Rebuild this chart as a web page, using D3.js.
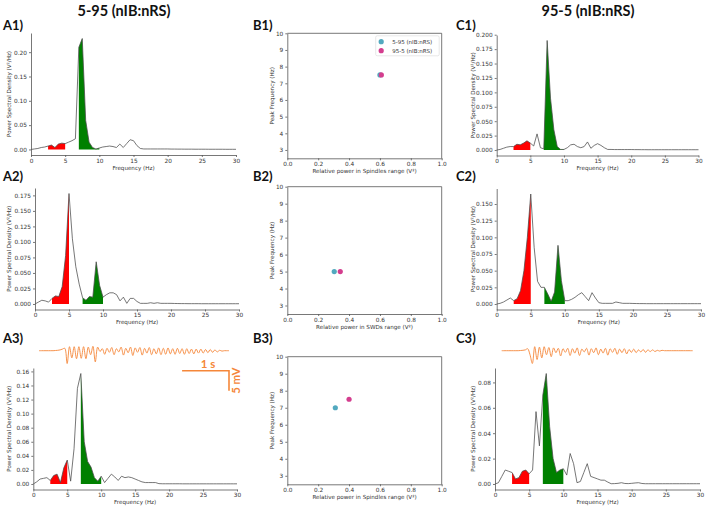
<!DOCTYPE html>
<html>
<head>
<meta charset="utf-8">
<script src="https://cdn.jsdelivr.net/npm/d3@7"></script>
<style>
  body { margin: 0; background: #fff; }
  svg { display: block; }
</style>
</head>
<body>
<div class="main"></div>
<script>
// ---- data ----
const freqs = [0, 0.5, 1, 1.5, 2, 2.5, 3, 3.5, 4, 4.5,
  5, 5.5, 6, 6.5, 7, 7.5, 8, 8.5, 9, 9.5,
  10, 10.5, 11, 11.5, 12, 12.5, 13, 13.5, 14, 14.5,
  15, 15.5, 16, 16.5, 17, 17.5, 18, 18.5, 19, 19.5,
  20, 20.5, 21, 21.5, 22, 22.5, 23, 23.5, 24, 24.5,
  25, 25.5, 26, 26.5, 27, 27.5, 28, 28.5, 29, 29.5, 30];

const psdA1 = [0, 0.001, 0.002, 0.004, 0.005, 0.007, 0.009, 0.004, 0.011, 0.013,
  0.012, 0.015, 0.018, 0.022, 0.21, 0.228, 0.06, 0.015, 0.004, 0.001,
  0.003, 0.005, 0.006, 0.007, 0.006, 0.004, 0.011, 0.004, 0.012, 0.02,
  0.018, 0.008, 0.002, 0.001, 0.001, 0.001, 0.001, 0.001, 0.001, 0.001,
  0.001, 0.0008, 0.0008, 0.0007, 0.0007, 0.0006, 0.0006, 0.0006, 0.0005, 0.0005,
  0.0005, 0.0005, 0.0004, 0.0004, 0.0004, 0.0004, 0.0004, 0.0003, 0.0003, 0.0003, 0.0003];

const psdA2 = [0, 0.003, 0.006, 0.005, 0.003, 0.009, 0.013, 0.012, 0.028, 0.078,
  0.178, 0.105, 0.06, 0.032, 0.01, 0.006, 0.012, 0.011, 0.068, 0.03,
  0.011, 0.015, 0.018, 0.018, 0.015, 0.005, 0.011, 0.001, 0.009, 0.009,
  0.004, 0.001, 0.001, 0.001, 0.002, 0.001, 0.002, 0.001, 0.001, 0.001,
  0.001, 0.0008, 0.0007, 0.0006, 0.0006, 0.0005, 0.0005, 0.0005, 0.0005, 0.0004,
  0.0004, 0.0004, 0.0004, 0.0004, 0.0004, 0.0004, 0.0004, 0.0004, 0.0004, 0.0004, 0.0004];

const psdA3 = [0, 0.003, 0.007, 0.008, 0.009, 0.005, 0.012, 0.014, 0.002, 0.023,
  0.034, 0.004, 0.05, 0.136, 0.157, 0.06, 0.032, 0.024, 0.009, 0.004,
  0.011, 0.002, 0.008, 0.014, 0.01, 0.005, 0.011, 0.009, 0.01, 0.009,
  0.007, 0.005, 0.003, 0.002, 0.002, 0.002, 0.002, 0.0005, 0.0003, 0.0003,
  0.0003, 0.0003, 0.0003, 0.0003, 0.0002, 0.0002, 0.0002, 0.0002, 0.0002, 0.0002,
  0.0002, 0.0002, 0.0002, 0.0002, 0.0002, 0.0002, 0.0002, 0.0002, 0.0002, 0.0002, 0.0002];

const psdC1 = [0, 0.001, 0.003, 0.005, 0.006, 0.006, 0.01, 0.009, 0.012, 0.016,
  0.012, 0.007, 0.028, 0.004, 0.002, 0.19, 0.09, 0.035, 0.006, 0.001,
  0.001, 0.004, 0.009, 0.01, 0.006, 0.004, 0.006, 0.014, 0.003, 0.008,
  0.011, 0.008, 0.004, 0.001, 0.001, 0.0008, 0.0008, 0.0008, 0.0008, 0.0008,
  0.0008, 0.0007, 0.0007, 0.0006, 0.0006, 0.0005, 0.0005, 0.0005, 0.0005, 0.0005,
  0.0005, 0.0005, 0.0005, 0.0005, 0.0005, 0.0005, 0.0005, 0.0005, 0.0005, 0.0005, 0.0005];

const psdC2 = [0, 0.001, 0.003, 0.006, 0.009, 0.005, 0.008, 0.02, 0.05, 0.1,
  0.165, 0.085, 0.034, 0.025, 0.025, 0.015, 0.004, 0.018, 0.088, 0.035,
  0.005, 0.005, 0.007, 0.01, 0.014, 0.017, 0.011, 0.005, 0.017, 0.009,
  0.002, 0.001, 0.001, 0.001, 0.001, 0.003, 0.002, 0.001, 0.001, 0.001,
  0.0008, 0.0007, 0.0006, 0.0006, 0.0005, 0.0005, 0.0005, 0.0005, 0.0005, 0.0005,
  0.0005, 0.0005, 0.0005, 0.0005, 0.0005, 0.0005, 0.0005, 0.0005, 0.0005, 0.0005, 0.0005];

const psdC3 = [0, 0.001, 0.006, 0.011, 0.01, 0.009, 0.004, 0.005, 0.01, 0.011,
  0.008, 0.011, 0.057, 0.03, 0.07, 0.087, 0.045, 0.02, 0.009, 0.011,
  0.012, 0.007, 0.024, 0.016, 0.001, 0.002, 0.009, 0.016, 0.006, 0.005,
  0.004, 0.003, 0.003, 0.0015, 0.0002, 0.0003, 0.0005, 0.001, 0.0004, 0.0003,
  0.0005, 0.0008, 0.001, 0.0004, 0.0002, 0.0002, 0.0002, 0.0002, 0.0002, 0.0002,
  0.0002, 0.0002, 0.0002, 0.0002, 0.0002, 0.0002, 0.0002, 0.0002, 0.0002, 0.0002, 0.0002];

const swdBand = [2.5, 5];
const spindleBand = [7, 10];

const freqTicks = [0, 5, 10, 15, 20, 25, 30];
const yTicksA1 = [0, 0.05, 0.10, 0.15, 0.20];
const yTicksA2 = [0, 0.025, 0.05, 0.075, 0.1, 0.125, 0.15, 0.175];
const yTicksA3 = [0, 0.02, 0.04, 0.06, 0.08, 0.10, 0.12, 0.14, 0.16];
const yTicksC1 = [0, 0.025, 0.05, 0.075, 0.1, 0.125, 0.15, 0.175, 0.2];
const yTicksC2 = [0, 0.025, 0.05, 0.075, 0.1, 0.125, 0.15];
const yTicksC3 = [0, 0.02, 0.04, 0.06, 0.08];

// scatter: [5-95, 95-5]
const seriesNames = ['5-95 (nIB:nRS)', '95-5 (nIB:nRS)'];
const seriesColors = ['#52a9bf', '#d43d8e'];
const relPowerB1 = [0.60, 0.609];
const peakFreqB1 = [7.5, 7.5];
const relPowerB2 = [0.304, 0.343];
const peakFreqB2 = [5, 5];
const relPowerB3 = [0.311, 0.40];
const peakFreqB3 = [7, 7.5];
const relTicks = [0, 0.2, 0.4, 0.6, 0.8, 1.0];
const peakTicks = [3, 4, 5, 6, 7, 8, 9, 10];

// example LFP traces (mV), one sample every 0.05 s
const traceDt = 0.05;
const traceA3 = [0, 0, 0, 0, 0, 0, 0, 0.05, 0.1, 0.2,
  0.4, 0.6, -3.2, 1.0, -1.8, 1.0, -2.0, 1.0, -1.9, 1.0,
  -2.0, 0.9, -1.0, 1.1, -2.8, 0.9, -0.2, 0.5, -0.9, 0.6,
  -0.4, 0.8, -1.0, 0.5, -0.3, 0.9, -1.1, 0.6, -0.5, 0.9,
  -1.2, 0.7, -0.4, 0.8, -1.1, 0.6, -0.6, 0.8, -1.0, 0.5,
  -0.8, 0.7, -1.0, 0.6, -0.9, 0.7, -0.8, 0.5, -0.9, 0.6,
  -0.7, 0.5, -0.9, 0.5, -0.7, 0.4, -0.8, 0.4, -0.6, 0.4,
  -0.6, 0.3, -0.5, 0.3, -0.4, 0.2, -0.3, 0.1, -0.1, 0,
  0, 0];
const traceC3 = [0, 0, 0, 0, 0, 0, 0, 0, 0.05, 0.1,
  0.2, 0.5, -1.0, -3.2, 1.0, -2.2, 0.9, -1.8, 1.0, -1.0,
  0.8, -1.5, 0.7, -0.5, 0.6, -1.3, 0.5, -0.4, 0.6, -1.2,
  0.5, -0.6, 0.7, -1.2, 0.4, -0.3, 0.6, -1.1, 0.5, -0.5,
  0.7, -1.0, 0.4, -0.6, 0.6, -1.1, 0.5, -0.4, 0.6, -0.9,
  0.4, -0.5, 0.5, -0.8, 0.3, -0.4, 0.4, -0.5, 0.2, -0.3,
  0.3, -0.4, 0.2, -0.2, 0.2, -0.2, 0.1, -0.1, 0.1, 0,
  0, 0, 0, 0, 0, 0, 0, 0, 0, 0,
  0, 0];
const scaleBarSec = 1;
const scaleBarMv = 5;

// ---- layout ----
const tickFont = 'DejaVu Sans';
const axisColor = '#555';
const orange = '#f5873a';

let svg = d3.select('.main').append('svg')
  .attr('width', 708)
  .attr('height', 508);

function styleAxis(g) {
  g.attr('font-family', tickFont).attr('font-size', 5.8);
  g.selectAll('path.domain').attr('stroke', axisColor).attr('stroke-width', 0.8);
  g.selectAll('.tick line').attr('stroke', axisColor).attr('stroke-width', 0.8);
  g.selectAll('.tick text').attr('fill', '#333');
}

function axisLabels(box, xText, yText, yLabX) {
  svg.append('text')
    .attr('x', (box.left + box.right) / 2)
    .attr('y', box.bottom + 14.5)
    .attr('text-anchor', 'middle')
    .attr('font-family', tickFont).attr('font-size', 5.6).attr('fill', '#333')
    .text(xText);
  svg.append('text')
    .attr('transform', `translate(${yLabX},${(box.top + box.bottom) / 2}) rotate(-90)`)
    .attr('text-anchor', 'middle')
    .attr('dy', '0.35em')
    .attr('font-family', tickFont).attr('font-size', 5.6).attr('fill', '#333')
    .text(yText);
}

function psdPanel(box, psd, yTicks, yFmt, yLabX) {
  let x = d3.scaleLinear().domain([0, 30]).range([box.left, box.right]);
  let lo = d3.min(psd), hi = d3.max(psd), pad = (hi - lo) * 0.05;
  let y = d3.scaleLinear().domain([lo - pad, hi + pad]).range([box.bottom, box.top]);
  let pts = freqs.map((f, i) => ({ f: f, v: psd[i] }));
  let area = d3.area().x(d => x(d.f)).y0(y(0)).y1(d => y(d.v));

  svg.append('path')
    .datum(pts.filter(d => d.f >= swdBand[0] && d.f <= swdBand[1]))
    .attr('d', area).attr('fill', '#ff0000');
  svg.append('path')
    .datum(pts.filter(d => d.f >= spindleBand[0] && d.f <= spindleBand[1]))
    .attr('d', area).attr('fill', '#008000');
  svg.append('path')
    .datum(pts)
    .attr('d', d3.line().x(d => x(d.f)).y(d => y(d.v)))
    .attr('fill', 'none').attr('stroke', '#4a4a4a').attr('stroke-width', 0.75);

  svg.append('g')
    .attr('transform', `translate(0,${box.bottom})`)
    .call(d3.axisBottom(x).tickValues(freqTicks).tickSize(2).tickPadding(1.5).tickSizeOuter(0))
    .call(styleAxis);
  svg.append('g')
    .attr('transform', `translate(${box.left},0)`)
    .call(d3.axisLeft(y).tickValues(yTicks).tickFormat(d3.format(yFmt)).tickSize(2).tickPadding(2).tickSizeOuter(0))
    .call(styleAxis);

  axisLabels(box, 'Frequency (Hz)', 'Power Spectral Density (V\u00b2/Hz)', yLabX);
}

function scatterPanel(box, relPower, peakFreq, xText, withLegend) {
  let x = d3.scaleLinear().domain([0, 1]).range([box.left, box.right]);
  let y = d3.scaleLinear().domain([2.5, 10]).range([box.bottom, box.top]);

  svg.append('g')
    .attr('transform', `translate(0,${box.bottom})`)
    .call(d3.axisBottom(x).tickValues(relTicks).tickFormat(d3.format('.1f')).tickSize(2).tickPadding(1.5).tickSizeOuter(0))
    .call(styleAxis);
  svg.append('g')
    .attr('transform', `translate(${box.left},0)`)
    .call(d3.axisLeft(y).tickValues(peakTicks).tickSize(2).tickPadding(2).tickSizeOuter(0))
    .call(styleAxis);
  // top and right spines
  svg.append('path')
    .attr('d', `M${box.left},${box.top}H${box.right}V${box.bottom}`)
    .attr('fill', 'none').attr('stroke', axisColor).attr('stroke-width', 0.8);

  svg.selectAll(null)
    .data(relPower.map((r, i) => ({ r: r, p: peakFreq[i], c: seriesColors[i] })))
    .enter().append('circle')
    .attr('cx', d => x(d.r))
    .attr('cy', d => y(d.p))
    .attr('r', 2.6)
    .attr('fill', d => d.c);

  axisLabels(box, xText, 'Peak Frequency (Hz)', box.left - 15);

  if (withLegend) {
    let lg = svg.append('g');
    lg.append('rect')
      .attr('x', box.right - 66).attr('y', box.top + 2.5)
      .attr('width', 63.5).attr('height', 20).attr('rx', 1.5)
      .attr('fill', '#fff').attr('stroke', '#d8d8d8').attr('stroke-width', 0.6);
    seriesNames.forEach((name, i) => {
      lg.append('circle')
        .attr('cx', box.right - 60.5).attr('cy', box.top + 8.4 + i * 9)
        .attr('r', 2.6).attr('fill', seriesColors[i]);
      lg.append('text')
        .attr('x', box.right - 49.5).attr('y', box.top + 8.4 + i * 9)
        .attr('dy', '0.35em')
        .attr('font-family', tickFont).attr('font-size', 5.5).attr('fill', '#333')
        .text(name);
    });
  }
}

function drawTrace(vals, x0, x1, yBase, withBar) {
  let dur = (vals.length - 1) * traceDt;
  let t = d3.scaleLinear().domain([0, dur]).range([x0, x1]);
  let v = d3.scaleLinear().domain([0, scaleBarMv]).range([yBase, yBase - 20]);
  svg.append('path')
    .datum(vals)
    .attr('d', d3.line().curve(d3.curveCatmullRom).x((d, i) => t(i * traceDt)).y(d => v(d)))
    .attr('fill', 'none').attr('stroke', orange).attr('stroke-width', 0.9)
    .attr('stroke-linejoin', 'round');
  if (withBar) {
    let tEnd = dur;
    let tStart = tEnd - scaleBarSec;
    svg.append('path')
      .attr('d', `M${t(tStart)},${v(-scaleBarMv)}H${t(tEnd)}V${v(-2 * scaleBarMv)}`)
      .attr('fill', 'none').attr('stroke', orange).attr('stroke-width', 1.6);
    svg.append('text')
      .attr('x', (t(tStart) + t(tEnd)) / 2 + 2.5).attr('y', v(-scaleBarMv) - 2.5)
      .attr('text-anchor', 'middle')
      .attr('font-family', 'Lato').attr('font-weight', 'bold').attr('font-size', 11.5)
      .attr('fill', orange)
      .text(scaleBarSec + ' s');
    svg.append('text')
      .attr('transform', `translate(${t(tEnd) + 11},${v(-1.5 * scaleBarMv)}) rotate(-90)`)
      .attr('text-anchor', 'middle')
      .attr('font-family', 'Lato').attr('font-weight', 'bold').attr('font-size', 11.5)
      .attr('fill', orange)
      .text(scaleBarMv + ' mV');
  }
}

// ---- titles and panel letters ----
[['5-95 (nIB:nRS)', 124], ['95-5 (nIB:nRS)', 588]].forEach(([txt, cx]) => {
  svg.append('text')
    .attr('x', cx).attr('y', 16)
    .attr('text-anchor', 'middle')
    .attr('font-family', 'Lato').attr('font-weight', 'bold').attr('font-size', 14.5)
    .attr('fill', '#111')
    .text(txt);
});

let letters = [
  ['A1)', 3, 30], ['B1)', 253, 30], ['C1)', 456, 30],
  ['A2)', 3, 180.5], ['B2)', 253, 180.5], ['C2)', 456, 180.5],
  ['A3)', 3, 342.5], ['B3)', 253, 342.5], ['C3)', 456, 342.5]
];
letters.forEach(([txt, lx, ly]) => {
  svg.append('text')
    .attr('x', lx).attr('y', ly)
    .attr('font-family', 'Lato').attr('font-weight', 'bold').attr('font-size', 13)
    .attr('fill', '#111')
    .text(txt);
});

// ---- panels ----
psdPanel({ left: 31, right: 236, top: 33, bottom: 155 }, psdA1, yTicksA1, '.2f', 9);
psdPanel({ left: 35, right: 239, top: 188, bottom: 309.5 }, psdA2, yTicksA2, '.3f', 9);
psdPanel({ left: 33.3, right: 237, top: 368, bottom: 489.5 }, psdA3, yTicksA3, '.2f', 9);
psdPanel({ left: 496.7, right: 698.5, top: 35, bottom: 155.5 }, psdC1, yTicksC1, '.3f', 473);
psdPanel({ left: 496.7, right: 701, top: 188.5, bottom: 309.5 }, psdC2, yTicksC2, '.3f', 473);
psdPanel({ left: 495, right: 700, top: 368, bottom: 489.5 }, psdC3, yTicksC3, '.2f', 473);

scatterPanel({ left: 287.3, right: 441.7, top: 33.3, bottom: 158.3 }, relPowerB1, peakFreqB1,
  'Relative power in Spindles range (V\u00b2)', true);
scatterPanel({ left: 287.3, right: 441.7, top: 186.7, bottom: 314 }, relPowerB2, peakFreqB2,
  'Relative power in SWDs range (V\u00b2)', false);
scatterPanel({ left: 287.3, right: 441.7, top: 356.7, bottom: 484.3 }, relPowerB3, peakFreqB3,
  'Relative power in Spindles range (V\u00b2)', false);

drawTrace(traceA3, 39, 229, 350.7, true);
drawTrace(traceC3, 501.7, 692.7, 350.7, false);
</script>
</body>
</html>
